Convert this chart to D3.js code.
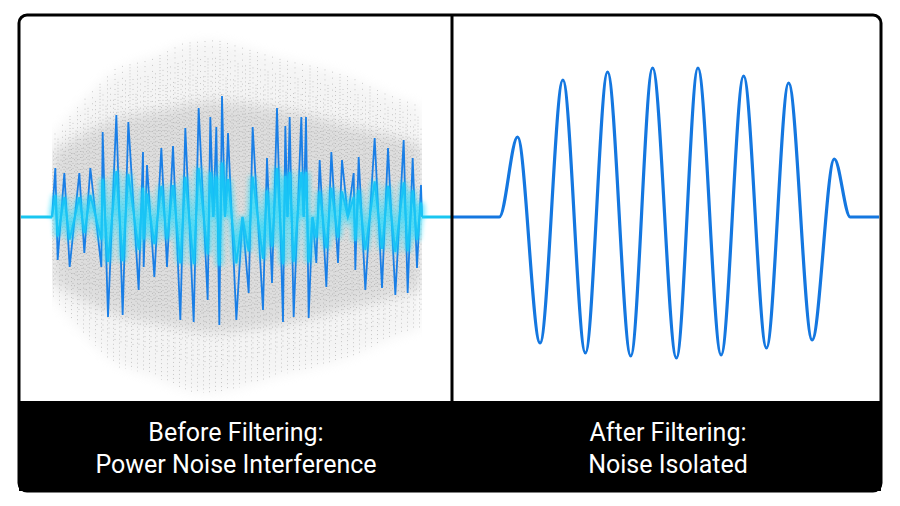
<!DOCTYPE html>
<html><head><meta charset="utf-8">
<script src="https://cdn.jsdelivr.net/npm/d3@7"></script>
<style>body{margin:0;background:#fff}</style></head>
<body><svg id="c" width="900" height="506"></svg>
<script>
// ---- data ----
const titlesLeft = ["Before Filtering:", "Power Noise Interference"];
const titlesRight = ["After Filtering:", "Noise Isolated"];
// noisy signal spikes (sample index, amplitude)
const upSpikes = [[165,49],[192,44],[237,44],[270,49],[307,85],[348,102],[384,95],[428,65],[440,52],[483,69],[518,71],[555,89],[595,109],[630,100],[648,90],[665,121],[683,84],[757,90],[800,59],[830,109],[855,91],[868,100],[903,100],[917,100],[958,57],[993,65],[1025,57],[1060,44],[1075,60],[1123,79],[1163,69],[1210,77],[1237,59],[1262,32]];
const downSpikes = [[172,-43],[208,-50],[252,-36],[303,-50],[323,-100],[367,-98],[415,-73],[430,-50],[462,-60],[500,-50],[540,-103],[580,-105],[622,-83],[657,-108],[708,-103],[745,-76],[788,-93],[815,-66],[848,-105],[880,-100],[925,-101],[948,-46],[978,-70],[1013,-46],[1065,-53],[1095,-73],[1145,-71],[1185,-78],[1222,-76],[1250,-51]];
// noise envelope (sample index, outer amplitude, core amplitude)
const envX = [155,250,350,450,550,650,750,850,950,1050,1150,1265];
const envOuter = [80,117,150,157,174,177,167,157,150,140,124,110];
const envCore = [65,84,100,105,112,118,112,108,100,90,84,72];
// filtered signal extrema (time, amplitude)
const filtered = [[0,0],[140,0],[195,80],[263,-126],[332,137],[400,-136],[467,145],[537,-139],[603,149],[675,-141],[740,149],[810,-138],[878,141],[947,-131],[1014,134],[1085,-123],[1152,58],[1200,0],[1287,0]];

const svg = d3.select("#c");
const base = 217;
const defs = svg.append("defs");
defs.append("filter").attr("id","glow").attr("x","-20%").attr("y","-50%").attr("width","140%").attr("height","200%")
  .append("feGaussianBlur").attr("stdDeviation",2.5);
defs.append("filter").attr("id","soft").attr("x","-10%").attr("y","-20%").attr("width","120%").attr("height","140%")
  .append("feGaussianBlur").attr("stdDeviation",6);
defs.append("clipPath").attr("id","clipL").append("rect").attr("x",52).attr("y",20).attr("width",370).attr("height",380);

const xL = d3.scaleLinear().domain([155,1265]).range([52,422]);
const yA = d3.scaleLinear().domain([-1,1]).range([base+1, base-1]);

const g = svg.append("g").attr("clip-path","url(#clipL)");
const envPts = envX.map((x,i)=>({x, o:envOuter[i], c:envCore[i]}));
const area = k => d3.area().x(d=>xL(d.x)).y0(d=>yA(-d[k])).y1(d=>yA(d[k])).curve(d3.curveBasis);
g.append("path").datum(envPts).attr("d",area("o")).attr("fill","#e2e2e2").attr("opacity",0.35).attr("filter","url(#soft)");
g.append("path").datum(envPts).attr("d",area("c")).attr("fill","#b4b4b4").attr("opacity",0.35).attr("filter","url(#soft)");
// dotted streak texture
const outerAt = d3.scaleLinear().domain(envX).range(envOuter);
const streaks = d3.range(155,1266,4.5);
g.append("g").selectAll("line").data(streaks).join("line")
  .attr("x1",d=>xL(d)).attr("x2",d=>xL(d))
  .attr("y1",(d,i)=>yA(outerAt(d)*(0.6+0.4*((i*7)%5)/4)))
  .attr("y2",(d,i)=>yA(-outerAt(d)*(0.55+0.45*((i*3)%4)/3)))
  .attr("stroke","#8f8f8f").attr("stroke-width",1).attr("stroke-dasharray",(d,i)=>`1,${2+(i%4)}`).attr("opacity",0.45);

let sp = upSpikes.concat(downSpikes).sort((a,b)=>a[0]-b[0]);
let pts = [[155,0]];
sp.forEach((p,i)=>{ if(i>0 && Math.sign(p[1])===Math.sign(sp[i-1][1])) pts.push([(p[0]+sp[i-1][0])/2, 0]); pts.push(p);});
pts.push([1265,0]);
const lineL = d3.line().x(d=>xL(d[0])).y(d=>yA(d[1]));
svg.append("line").attr("x1",21).attr("x2",xL(155)).attr("y1",base).attr("y2",base).attr("stroke","#19c6f0").attr("stroke-width",3);
svg.append("line").attr("x1",xL(1265)).attr("x2",452).attr("y1",base).attr("y2",base).attr("stroke","#19c6f0").attr("stroke-width",3);
svg.append("path").datum(pts).attr("d",lineL).attr("fill","none").attr("stroke","#1a7fe6").attr("stroke-width",1.8);
const cyanPts = pts.map(p=>[p[0],p[1]*0.45]);
svg.append("path").datum(cyanPts).attr("d",lineL).attr("fill","none").attr("stroke","#16d9ff").attr("stroke-width",6).attr("opacity",0.7).attr("filter","url(#glow)");
svg.append("path").datum(cyanPts).attr("d",lineL).attr("fill","none").attr("stroke","#19c4f5").attr("stroke-width",2);

const xR = d3.scaleLinear().domain([0,1287]).range([453,879]);
svg.append("path").datum(filtered).attr("d",d3.line().x(d=>xR(d[0])).y(d=>yA(d[1])).curve(d3.curveMonotoneX))
  .attr("fill","none").attr("stroke","#1477e0").attr("stroke-width",3.2);

svg.append("rect").attr("x",19).attr("y",401).attr("width",862).attr("height",90).attr("fill","#000");
svg.append("rect").attr("x",19).attr("y",15).attr("width",862).attr("height",476).attr("rx",8)
  .attr("fill","none").attr("stroke","#000").attr("stroke-width",3);
svg.append("line").attr("x1",452).attr("x2",452).attr("y1",15).attr("y2",401).attr("stroke","#000").attr("stroke-width",3);

const txt = (lines,cx)=>svg.append("g").selectAll("text").data(lines).join("text")
  .attr("x",cx).attr("y",(d,i)=>441+i*32).attr("text-anchor","middle")
  .attr("font-family","Roboto, sans-serif").attr("font-size",25).attr("fill","#fff").text(d=>d);
txt(titlesLeft,236);
txt(titlesRight,668);
</script></body></html>
